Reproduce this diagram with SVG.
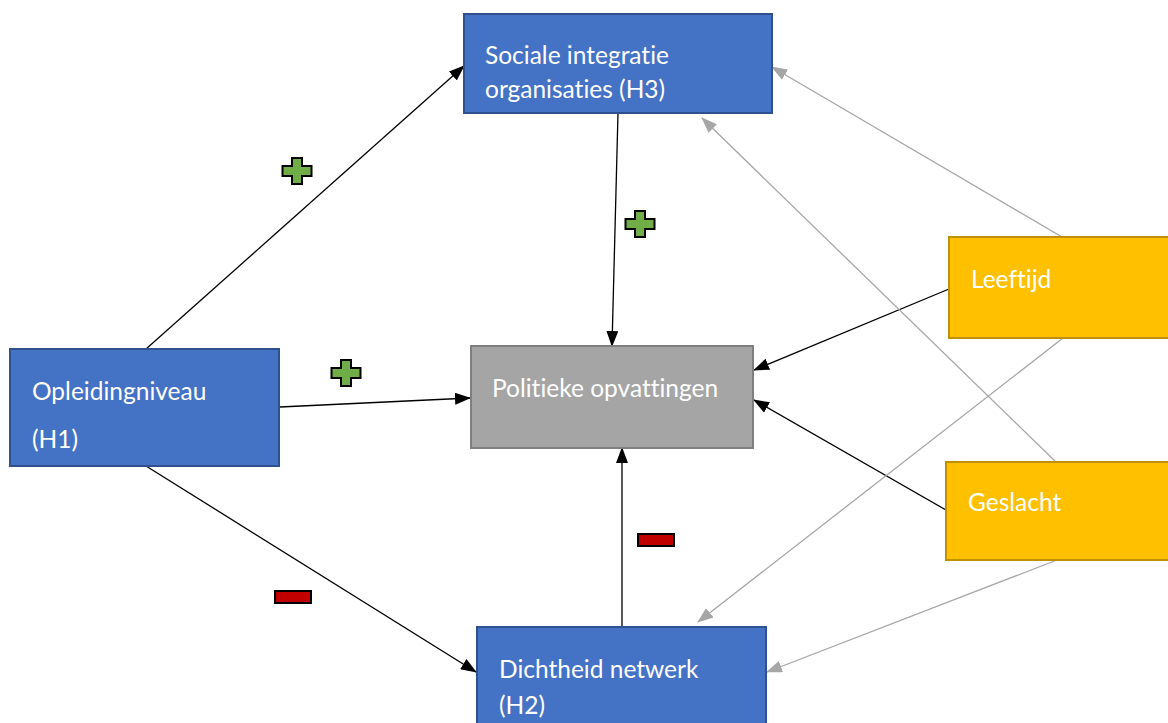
<svg xmlns="http://www.w3.org/2000/svg" width="1168" height="723" viewBox="0 0 1168 723">
<style>
.blue{fill:#4472C4;stroke:#2F528F;stroke-width:2}
.gray{fill:#A5A5A5;stroke:#7F7F7F;stroke-width:2}
.yel{fill:#FFC000;stroke:#BF9000;stroke-width:2}
.t{font-family:Lato,"Noto Sans",sans-serif;font-size:24.5px;fill:#fff;font-variant-ligatures:none;font-feature-settings:"liga" 0,"dlig" 0}
.c{stroke:#000;stroke-width:1.3;fill:none;marker-end:url(#ab)}
.g{stroke:#A6A6A6;stroke-width:1.3;fill:none;marker-end:url(#ag)}
.plus{fill:#70AD47;stroke:#000;stroke-width:2}
.minus{fill:#C00000;stroke:#000;stroke-width:2}
</style>
<defs>
<marker id="ab" markerUnits="userSpaceOnUse" markerWidth="16" markerHeight="12" refX="15" refY="6" orient="auto"><path d="M0,0 L16,6 L0,12 Z" fill="#000"/></marker>
<marker id="ag" markerUnits="userSpaceOnUse" markerWidth="16" markerHeight="12" refX="15" refY="6" orient="auto"><path d="M0,0 L16,6 L0,12 Z" fill="#A6A6A6"/></marker>
<path id="pl" d="M-5,-13 H5 V-5 H14.5 V5 H5 V13 H-5 V5 H-14.5 V-5 H-5 Z"/>
</defs>
<rect width="1168" height="723" fill="#fff"/>
<g id="connectors">
<line class="c" x1="146" y1="349" x2="464" y2="66"/>
<line class="c" x1="280" y1="407" x2="470" y2="398"/>
<line class="c" x1="146" y1="466" x2="476" y2="672"/>
<line class="c" x1="618" y1="113" x2="612" y2="346"/>
<line class="c" x1="622" y1="627" x2="622" y2="448"/>
<line class="c" x1="949" y1="289" x2="754" y2="370"/>
<line class="c" x1="946" y1="510" x2="754" y2="400"/>
<line class="g" x1="1062" y1="237" x2="772" y2="67"/>
<line class="g" x1="1057" y1="463" x2="702" y2="118"/>
<line class="g" x1="1063" y1="338" x2="698" y2="622"/>
<line class="g" x1="1057" y1="560" x2="767" y2="672"/>
</g>
<g id="sociale">
<rect class="blue" x="464" y="14" width="308" height="99"/>
<text class="t" x="485" y="64">Sociale integratie</text>
<text class="t" x="485" y="98">organisaties (H3)</text>
</g>
<g id="politieke">
<rect class="gray" x="471" y="346" width="282" height="102"/>
<text class="t" x="492" y="397">Politieke opvattingen</text>
</g>
<g id="opleiding">
<rect class="blue" x="10" y="349" width="269" height="117"/>
<text class="t" x="32" y="400">Opleidingniveau</text>
<text class="t" x="32" y="448">(H1)</text>
</g>
<g id="dichtheid">
<rect class="blue" x="477" y="627" width="289" height="100"/>
<text class="t" x="499" y="678">Dichtheid netwerk</text>
<text class="t" x="499" y="714">(H2)</text>
</g>
<g id="leeftijd">
<rect class="yel" x="949" y="237" width="222" height="101"/>
<text class="t" x="971" y="288">Leeftijd</text>
</g>
<g id="geslacht">
<rect class="yel" x="946" y="462" width="225" height="98"/>
<text class="t" x="968" y="511">Geslacht</text>
</g>
<g id="signs">
<use href="#pl" class="plus" transform="translate(297,171)"/>
<use href="#pl" class="plus" transform="translate(640,224)"/>
<use href="#pl" class="plus" transform="translate(346,373)"/>
<rect class="minus" x="275" y="591" width="36" height="12"/>
<rect class="minus" x="638" y="534" width="36" height="12"/>
</g>
</svg>
